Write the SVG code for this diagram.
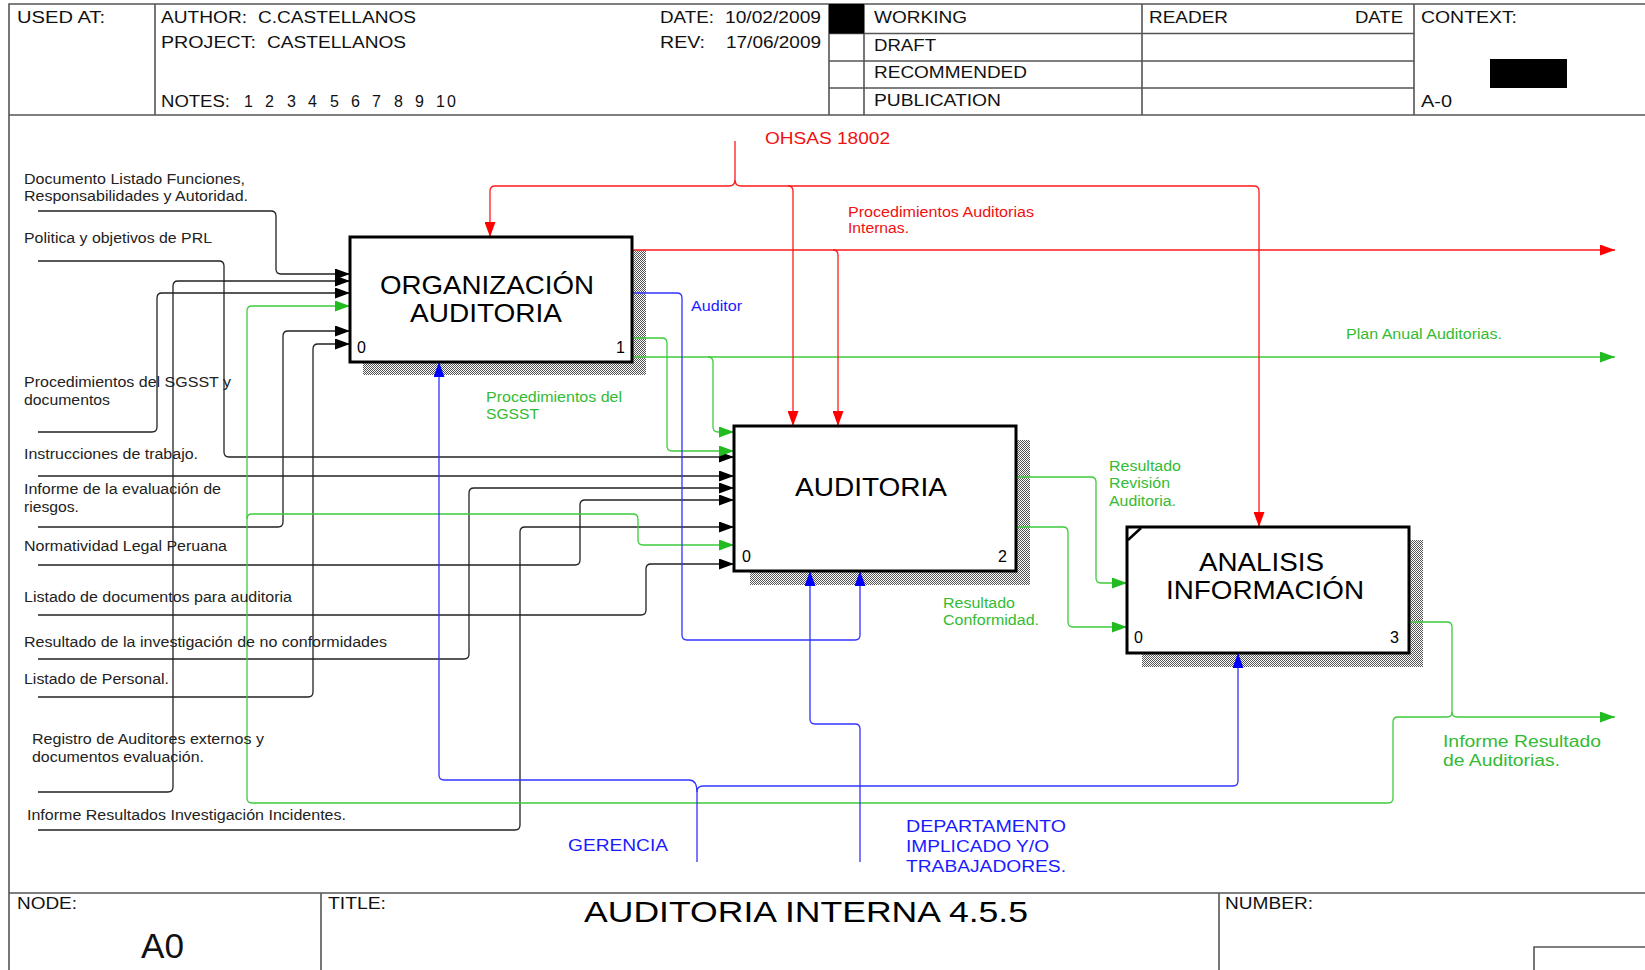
<svg xmlns="http://www.w3.org/2000/svg" width="1645" height="970" viewBox="0 0 1645 970">
<style>
text{font-family:"Liberation Sans",Arial,sans-serif;}
.hd{font-size:16px;fill:#111;}
.lb{font-size:14px;fill:#222;}
.bx{font-size:25px;fill:#000;}
.num{font-size:16px;fill:#000;}
.rt{font-size:14px;fill:#f01010;}
.gt{font-size:14px;fill:#33bb33;}
.bt{font-size:14px;fill:#1a1aff;}
.frame{stroke:#555;stroke-width:1.6;fill:none;}
.box{fill:#fff;stroke:#000;stroke-width:3;}
.k{fill:none;stroke:#222;stroke-width:1.3;}
.r{fill:none;stroke:#ff1a1a;stroke-width:1.3;}
.g{fill:none;stroke:#3ccc3c;stroke-width:1.3;}
.b{fill:none;stroke:#3333ff;stroke-width:1.3;}
</style>
<defs>
<pattern id="hatch" width="2" height="2" patternUnits="userSpaceOnUse">
<rect width="2" height="2" fill="#fff"/>
<rect width="1" height="1" fill="#555"/>
<rect x="1" y="1" width="1" height="1" fill="#555"/>
</pattern>
<marker id="ak" viewBox="0 0 15 11" refX="15" refY="5.5" markerWidth="15" markerHeight="11" markerUnits="userSpaceOnUse" orient="auto"><path d="M0,0 L15,5.5 L0,11 z" fill="#000"/></marker>
<marker id="ar" viewBox="0 0 15 11" refX="15" refY="5.5" markerWidth="15" markerHeight="11" markerUnits="userSpaceOnUse" orient="auto"><path d="M0,0 L15,5.5 L0,11 z" fill="#ff0000"/></marker>
<marker id="ag" viewBox="0 0 15 11" refX="15" refY="5.5" markerWidth="15" markerHeight="11" markerUnits="userSpaceOnUse" orient="auto"><path d="M0,0 L15,5.5 L0,11 z" fill="#22bb22"/></marker>
<marker id="ab" viewBox="0 0 15 11" refX="15" refY="5.5" markerWidth="15" markerHeight="11" markerUnits="userSpaceOnUse" orient="auto"><path d="M0,0 L15,5.5 L0,11 z" fill="#0000ff"/></marker>
</defs>
<rect width="1645" height="970" fill="#fff"/>

<g id="frame">
<path class="frame" d="M9,970 V4 H1645 M9,115 H1645 M155,4 V115 M829,4 V115 M864,4 V115 M1142,4 V115 M1414,4 V115 M829,33.5 H1414 M829,61 H1414 M829,88 H1414 M9,893 H1645 M321,893 V970 M1219,893 V970 M1534,970 V947 H1645"/>
<rect x="829" y="4" width="35" height="29.5" fill="#000"/>
<rect x="1490" y="59" width="77" height="29" fill="#000"/>
<text class="hd" x="17" y="23" textLength="88" lengthAdjust="spacingAndGlyphs">USED AT:</text>
<text class="hd" x="161" y="23" textLength="86" lengthAdjust="spacingAndGlyphs">AUTHOR:</text>
<text class="hd" x="258" y="23" textLength="158" lengthAdjust="spacingAndGlyphs">C.CASTELLANOS</text>
<text class="hd" x="161" y="48" textLength="95" lengthAdjust="spacingAndGlyphs">PROJECT:</text>
<text class="hd" x="267" y="48" textLength="139" lengthAdjust="spacingAndGlyphs">CASTELLANOS</text>
<text class="hd" x="161" y="107" textLength="69" lengthAdjust="spacingAndGlyphs">NOTES:</text>
<text class="hd" x="244 265 287 308 330 351 372 394 415 436 447" y="107">12345678910</text>
<text class="hd" x="660" y="23" textLength="54" lengthAdjust="spacingAndGlyphs">DATE:</text>
<text class="hd" x="725" y="23" textLength="96" lengthAdjust="spacingAndGlyphs">10/02/2009</text>
<text class="hd" x="660" y="48" textLength="45" lengthAdjust="spacingAndGlyphs">REV:</text>
<text class="hd" x="726" y="48" textLength="95" lengthAdjust="spacingAndGlyphs">17/06/2009</text>
<text class="hd" x="874" y="23" textLength="93" lengthAdjust="spacingAndGlyphs">WORKING</text>
<text class="hd" x="874" y="51" textLength="62" lengthAdjust="spacingAndGlyphs">DRAFT</text>
<text class="hd" x="874" y="78" textLength="153" lengthAdjust="spacingAndGlyphs">RECOMMENDED</text>
<text class="hd" x="874" y="106" textLength="127" lengthAdjust="spacingAndGlyphs">PUBLICATION</text>
<text class="hd" x="1149" y="23" textLength="79" lengthAdjust="spacingAndGlyphs">READER</text>
<text class="hd" x="1355" y="23" textLength="48" lengthAdjust="spacingAndGlyphs">DATE</text>
<text class="hd" x="1421" y="23" textLength="96" lengthAdjust="spacingAndGlyphs">CONTEXT:</text>
<text class="hd" x="1421" y="107" textLength="31" lengthAdjust="spacingAndGlyphs">A-0</text>
<text class="hd" x="17" y="909" textLength="60" lengthAdjust="spacingAndGlyphs">NODE:</text>
<text class="hd" x="141" y="958" style="font-size:35px" textLength="43" lengthAdjust="spacingAndGlyphs">A0</text>
<text class="hd" x="328" y="909" textLength="58" lengthAdjust="spacingAndGlyphs">TITLE:</text>
<text class="hd" x="584" y="922" style="font-size:30px;fill:#000" textLength="444" lengthAdjust="spacingAndGlyphs">AUDITORIA INTERNA 4.5.5</text>
<text class="hd" x="1225" y="909" textLength="88" lengthAdjust="spacingAndGlyphs">NUMBER:</text>
</g>

<g id="shadows">
<path d="M632,250 H646 V375 H363 V362 H632 Z" fill="url(#hatch)"/>
<path d="M1016,440 H1030 V585 H750 V571 H1016 Z" fill="url(#hatch)"/>
<path d="M1409,540 H1423 V667 H1142 V653 H1409 Z" fill="url(#hatch)"/>
</g>

<g id="connectors">
<path class="k" marker-end="url(#ak)" d="M38,211 H271 Q276,211 276,216 V269 Q276,274 281,274 H350"/>
<path class="k" marker-end="url(#ak)" d="M38,792 H168 Q173,792 173,787 V286 Q173,281 178,281 H350"/>
<path class="k" marker-end="url(#ak)" d="M38,432 H152 Q157,432 157,427 V298 Q157,293 162,293 H350"/>
<path class="k" marker-end="url(#ak)" d="M38,527 H278 Q283,527 283,522 V336 Q283,331 288,331 H350"/>
<path class="k" marker-end="url(#ak)" d="M38,697 H308 Q313,697 313,692 V349 Q313,344 318,344 H350"/>
<path class="k" marker-end="url(#ak)" d="M38,261 H219 Q224,261 224,266 V452 Q224,457 229,457 H734"/>
<path class="k" marker-end="url(#ak)" d="M38,476 H734"/>
<path class="k" marker-end="url(#ak)" d="M38,659 H464 Q469,659 469,654 V493 Q469,488 474,488 H734"/>
<path class="k" marker-end="url(#ak)" d="M38,565 H575 Q580,565 580,560 V505 Q580,500 585,500 H734"/>
<path class="k" marker-end="url(#ak)" d="M38,830 H515 Q520,830 520,825 V532 Q520,527 525,527 H734"/>
<path class="k" marker-end="url(#ak)" d="M38,615 H641 Q646,615 646,610 V569 Q646,564 651,564 H734"/>

<path class="g" marker-end="url(#ag)" d="M1409,622 H1447 Q1452,622 1452,627 V712 Q1452,717 1457,717 H1615"/>
<path class="g" marker-end="url(#ag)" d="M1452,712 Q1452,717 1447,717 H1398 Q1393,717 1393,722 V798 Q1393,803 1388,803 H252 Q247,803 247,798 V311 Q247,306 252,306 H350"/>
<path class="g" marker-end="url(#ag)" d="M247,519 Q247,514 252,514 H633 Q638,514 638,519 V540 Q638,545 643,545 H734"/>
<path class="g" marker-end="url(#ag)" d="M632,338 H662 Q667,338 667,343 V446 Q667,451 672,451 H734"/>
<path class="g" marker-end="url(#ag)" d="M632,357 H1615"/>
<path class="g" marker-end="url(#ag)" d="M708,357 Q713,357 713,362 V427 Q713,432 718,432 H734"/>
<path class="g" marker-end="url(#ag)" d="M1016,477 H1091 Q1096,477 1096,482 V578 Q1096,583 1101,583 H1127"/>
<path class="g" marker-end="url(#ag)" d="M1016,527 H1063 Q1068,527 1068,532 V622 Q1068,627 1073,627 H1127"/>

<path class="r" marker-end="url(#ar)" d="M735,141 V180 Q735,186 729,186 H495 Q490,186 490,191 V237"/>
<path class="r" marker-end="url(#ar)" d="M735,180 Q735,186 741,186 H1254 Q1259,186 1259,191 V527"/>
<path class="r" marker-end="url(#ar)" d="M788,186 Q793,186 793,191 V426"/>
<path class="r" marker-end="url(#ar)" d="M632,250 H1615"/>
<path class="r" marker-end="url(#ar)" d="M833,250 Q838,250 838,255 V426"/>

<path class="b" marker-end="url(#ab)" d="M632,293 H677 Q682,293 682,298 V635 Q682,640 687,640 H855 Q860,640 860,635 V571"/>
<path class="b" marker-end="url(#ab)" d="M697,862 V792 Q697,786 703,786 H1233 Q1238,786 1238,781 V653"/>
<path class="b" marker-end="url(#ab)" d="M697,792 Q697,780 689,780 H444 Q439,780 439,775 V362"/>
<path class="b" marker-end="url(#ab)" d="M860,862 V729 Q860,724 855,724 H815 Q810,724 810,719 V571"/>
</g>

<g id="labels">
<text class="lb" x="24" y="184" textLength="221" lengthAdjust="spacingAndGlyphs">Documento Listado Funciones,</text>
<text class="lb" x="24" y="201" textLength="224" lengthAdjust="spacingAndGlyphs">Responsabilidades y Autoridad.</text>
<text class="lb" x="24" y="243" textLength="188" lengthAdjust="spacingAndGlyphs">Politica y objetivos de PRL</text>
<text class="lb" x="24" y="387" textLength="207" lengthAdjust="spacingAndGlyphs">Procedimientos del SGSST y</text>
<text class="lb" x="24" y="405" textLength="86" lengthAdjust="spacingAndGlyphs">documentos</text>
<text class="lb" x="24" y="459" textLength="174" lengthAdjust="spacingAndGlyphs">Instrucciones de trabajo.</text>
<text class="lb" x="24" y="494" textLength="197" lengthAdjust="spacingAndGlyphs">Informe de la evaluación de</text>
<text class="lb" x="24" y="512" textLength="55" lengthAdjust="spacingAndGlyphs">riesgos.</text>
<text class="lb" x="24" y="551" textLength="203" lengthAdjust="spacingAndGlyphs">Normatividad Legal Peruana</text>
<text class="lb" x="24" y="602" textLength="268" lengthAdjust="spacingAndGlyphs">Listado de documentos para auditoria</text>
<text class="lb" x="24" y="647" textLength="363" lengthAdjust="spacingAndGlyphs">Resultado de la investigación de no conformidades</text>
<text class="lb" x="24" y="684" textLength="145" lengthAdjust="spacingAndGlyphs">Listado de Personal.</text>
<text class="lb" x="32" y="744" textLength="232" lengthAdjust="spacingAndGlyphs">Registro de Auditores externos y</text>
<text class="lb" x="32" y="762" textLength="172" lengthAdjust="spacingAndGlyphs">documentos evaluación.</text>
<text class="lb" x="27" y="820" textLength="319" lengthAdjust="spacingAndGlyphs">Informe Resultados Investigación Incidentes.</text>

<text class="rt" x="765" y="144" style="font-size:16px" textLength="125" lengthAdjust="spacingAndGlyphs">OHSAS 18002</text>
<text class="rt" x="848" y="217" textLength="186" lengthAdjust="spacingAndGlyphs">Procedimientos Auditorias</text>
<text class="rt" x="848" y="233" textLength="61" lengthAdjust="spacingAndGlyphs">Internas.</text>
<text class="bt" x="691" y="311" textLength="51" lengthAdjust="spacingAndGlyphs">Auditor</text>
<text class="gt" x="486" y="402" textLength="136" lengthAdjust="spacingAndGlyphs">Procedimientos del</text>
<text class="gt" x="486" y="419" textLength="53" lengthAdjust="spacingAndGlyphs">SGSST</text>
<text class="gt" x="1346" y="339" textLength="156" lengthAdjust="spacingAndGlyphs">Plan Anual Auditorias.</text>
<text class="gt" x="1109" y="471" textLength="72" lengthAdjust="spacingAndGlyphs">Resultado</text>
<text class="gt" x="1109" y="488" textLength="61" lengthAdjust="spacingAndGlyphs">Revisión</text>
<text class="gt" x="1109" y="506" textLength="67" lengthAdjust="spacingAndGlyphs">Auditoria.</text>
<text class="gt" x="943" y="608" textLength="72" lengthAdjust="spacingAndGlyphs">Resultado</text>
<text class="gt" x="943" y="625" textLength="96" lengthAdjust="spacingAndGlyphs">Conformidad.</text>
<text class="gt" x="1443" y="747" style="font-size:16px" textLength="158" lengthAdjust="spacingAndGlyphs">Informe Resultado</text>
<text class="gt" x="1443" y="766" style="font-size:16px" textLength="117" lengthAdjust="spacingAndGlyphs">de Auditorias.</text>
<text class="bt" x="568" y="851" style="font-size:16px" textLength="100" lengthAdjust="spacingAndGlyphs">GERENCIA</text>
<text class="bt" x="906" y="832" style="font-size:16px" textLength="160" lengthAdjust="spacingAndGlyphs">DEPARTAMENTO</text>
<text class="bt" x="906" y="852" style="font-size:16px" textLength="143" lengthAdjust="spacingAndGlyphs">IMPLICADO Y/O</text>
<text class="bt" x="906" y="872" style="font-size:16px" textLength="160" lengthAdjust="spacingAndGlyphs">TRABAJADORES.</text>
</g>

<g id="node-A1">
<rect class="box" x="350" y="237" width="282" height="125"/>
<text class="bx" x="380" y="294" textLength="214" lengthAdjust="spacingAndGlyphs">ORGANIZACIÓN</text>
<text class="bx" x="410" y="322" textLength="152" lengthAdjust="spacingAndGlyphs">AUDITORIA</text>
<text class="num" x="357" y="353">0</text>
<text class="num" x="616" y="353">1</text>
</g>

<g id="node-A2">
<rect class="box" x="734" y="426" width="282" height="145"/>
<text class="bx" x="795" y="496" textLength="152" lengthAdjust="spacingAndGlyphs">AUDITORIA</text>
<text class="num" x="742" y="562">0</text>
<text class="num" x="998" y="562">2</text>
</g>

<g id="node-A3">
<rect class="box" x="1127" y="527" width="282" height="126"/>
<line x1="1128" y1="540" x2="1141" y2="528" stroke="#000" stroke-width="2.5"/>
<text class="bx" x="1199" y="571" textLength="125" lengthAdjust="spacingAndGlyphs">ANALISIS</text>
<text class="bx" x="1166" y="599" textLength="198" lengthAdjust="spacingAndGlyphs">INFORMACIÓN</text>
<text class="num" x="1134" y="643">0</text>
<text class="num" x="1390" y="643">3</text>
</g>
</svg>
